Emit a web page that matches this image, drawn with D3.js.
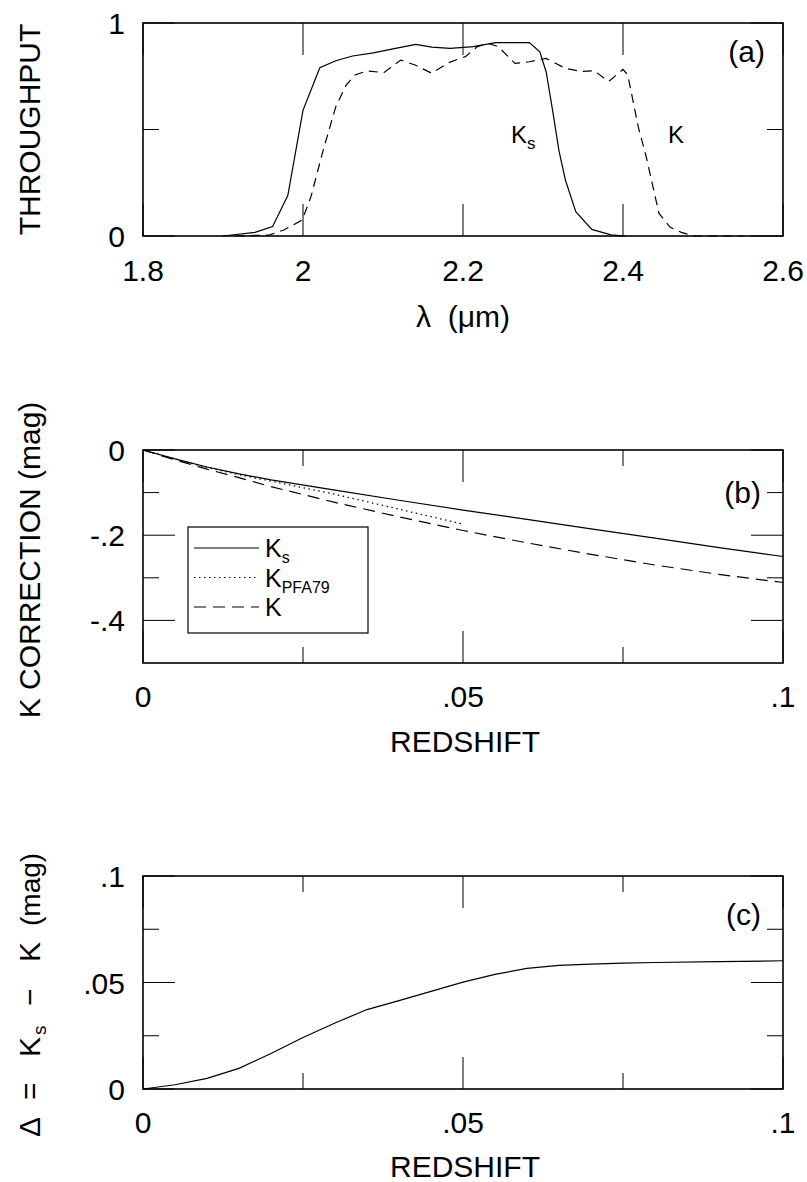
<!DOCTYPE html>
<html>
<head>
<meta charset="utf-8">
<script src="https://cdn.jsdelivr.net/npm/d3@7"></script>
<style>
  body { margin: 0; background: #fff; }
  svg { display: block; }
  text { font-family: "Liberation Sans", Arial, Helvetica, sans-serif; fill: #000; }
</style>
</head>
<body>
<div id="chart"></div>
<script>
// ---- Data: panel (a) filter throughput ----
const lambdaKs = [1.90, 1.94, 1.962, 1.981, 2.000, 2.021, 2.041, 2.062, 2.088, 2.114, 2.141, 2.161, 2.184,
  2.213, 2.241, 2.283, 2.296, 2.304, 2.312, 2.320, 2.328, 2.341, 2.361, 2.385, 2.403];
const throughputKs = [0, .017, .044, .19, .59, .79, .823, .845, .86, .88, .90, .887, .881,
  .889, .908, .908, .865, .77, .59, .40, .263, .114, .031, .005, 0];

const lambdaK = [1.916, 1.958, 1.976, 1.999, 2.010, 2.025, 2.041, 2.054, 2.065, 2.080, 2.101, 2.122, 2.140,
  2.161, 2.182, 2.203, 2.218, 2.231, 2.244, 2.265, 2.283, 2.304, 2.328, 2.348, 2.364, 2.382, 2.400,
  2.406, 2.419, 2.429, 2.445, 2.459, 2.473, 2.489, 2.55];
const throughputK = [0, .005, .028, .075, .185, .40, .607, .709, .756, .775, .767, .826, .803,
  .764, .814, .842, .889, .905, .889, .81, .818, .834, .787, .772, .776, .725, .782,
  .756, .513, .372, .106, .041, .017, 0, 0];

// ---- Data: panel (b) K corrections ----
const zCorr = [0, .005, .01, .015, .02, .03, .04, .05, .06, .07, .08, .09, .1];
const corrKs = [0, -.021, -.040, -.056, -.070, -.094, -.118, -.141, -.163, -.185, -.207, -.229, -.250];
const corrK = [0, -.023, -.045, -.065, -.086, -.123, -.157, -.189, -.218, -.245, -.270, -.292, -.311];
const zPFA = [0, .005, .01, .015, .02, .03, .04, .05];
const corrPFA = [0, -.021, -.041, -.058, -.073, -.104, -.139, -.174];

// ---- Data: panel (c) difference ----
const zDelta = [0, .005, .01, .015, .02, .025, .03, .035, .04, .045, .05, .055, .06, .065, .07, .075, .08, .09, .1];
const delta = [0, .002, .005, .0097, .0167, .0242, .031, .0373, .0415, .0458, .0502, .0538, .0566, .058,
  .0586, .0591, .0594, .0598, .0602];

// ---- Tick values and labels ----
const ticksA = { xMajor: [1.8, 2.0, 2.2, 2.4, 2.6], xMinor: [], yMajor: [0, 1], yMinor: [0.5],
  xLabels: ["1.8", "2", "2.2", "2.4", "2.6"], yLabels: ["0", "1"] };
const ticksB = { xMajor: [0, .05, .1], xMinor: [.025, .075], yMajor: [0, -.2, -.4], yMinor: [-.1, -.3],
  xLabels: ["0", ".05", ".1"], yLabels: ["0", "-.2", "-.4"] };
const ticksC = { xMajor: [0, .05, .1], xMinor: [.025, .075], yMajor: [0, .05, .1], yMinor: [.025, .075],
  xLabels: ["0", ".05", ".1"], yLabels: ["0", ".05", ".1"] };

const width = 807, height = 1182;
const left = 143, right = 783, panelH = 213;

const svg = d3.select("#chart").append("svg")
  .attr("width", width)
  .attr("height", height);

// Draw one framed panel and return its scales
function panel(top, xDomain, yDomain, ticks, xLabelBase) {
  const x = d3.scaleLinear().domain(xDomain).range([left, right]);
  const y = d3.scaleLinear().domain(yDomain).range([top + panelH, top]);
  const g = svg.append("g");

  // tick marks (inside, on all four sides)
  const tg = g.append("g").attr("stroke", "#000").attr("stroke-width", 1);
  [[ticks.xMajor, 32], [ticks.xMinor, 16]].forEach(([vals, len]) => {
    vals.forEach(v => {
      tg.append("line").attr("x1", x(v)).attr("x2", x(v)).attr("y1", top).attr("y2", top + len);
      tg.append("line").attr("x1", x(v)).attr("x2", x(v)).attr("y1", top + panelH).attr("y2", top + panelH - len);
    });
  });
  [[ticks.yMajor, 32], [ticks.yMinor, 16]].forEach(([vals, len]) => {
    vals.forEach(v => {
      tg.append("line").attr("x1", left).attr("x2", left + len).attr("y1", y(v)).attr("y2", y(v));
      tg.append("line").attr("x1", right).attr("x2", right - len).attr("y1", y(v)).attr("y2", y(v));
    });
  });

  // frame
  g.append("rect")
    .attr("x", left).attr("y", top)
    .attr("width", right - left).attr("height", panelH)
    .attr("fill", "none").attr("stroke", "#000").attr("stroke-width", 1.6);

  // tick labels
  g.selectAll(".xl").data(ticks.xMajor).join("text")
    .attr("x", d => x(d)).attr("y", xLabelBase)
    .attr("text-anchor", "middle").attr("font-size", 30)
    .text((d, i) => ticks.xLabels[i]);
  g.selectAll(".yl").data(ticks.yMajor).join("text")
    .attr("x", 125).attr("y", d => y(d) + 11)
    .attr("text-anchor", "end").attr("font-size", 30)
    .text((d, i) => ticks.yLabels[i]);

  return { g, x, y };
}

function curve(p, xs, ys, dash, sw) {
  const line = d3.line().x(d => p.x(d[0])).y(d => p.y(d[1]));
  p.g.append("path")
    .datum(d3.zip(xs, ys))
    .attr("d", line)
    .attr("fill", "none")
    .attr("stroke", "#000")
    .attr("stroke-width", sw || 1.2)
    .attr("stroke-dasharray", dash || null);
}

function rotLabel(cx, cy, txt, size) {
  svg.append("text")
    .attr("transform", `translate(${cx},${cy}) rotate(-90)`)
    .attr("text-anchor", "middle")
    .attr("font-size", size || 30)
    .text(txt);
}

// ---- Panel (a) ----
const pa = panel(23, [1.8, 2.6], [0, 1], ticksA, 281);
curve(pa, lambdaKs, throughputKs);
curve(pa, lambdaK, throughputK, "9,6");
pa.g.append("text").attr("x", 765).attr("y", 62).attr("text-anchor", "end").attr("font-size", 30).text("(a)");
const ksA = pa.g.append("text").attr("x", 511).attr("y", 143).attr("font-size", 24);
ksA.append("tspan").text("K");
ksA.append("tspan").attr("font-size", 17).attr("dy", 6).text("s");
pa.g.append("text").attr("x", 668).attr("y", 143).attr("font-size", 24).text("K");

rotLabel(40, 129.5, "THROUGHPUT");
svg.append("text").attr("x", 463).attr("y", 327).attr("text-anchor", "middle")
  .attr("font-size", 30).attr("font-family", "DejaVu Sans").attr("font-weight", 200)
  .attr("xml:space", "preserve").text("\u03bb  (\u03bcm)");

// ---- Panel (b) ----
const pb = panel(450, [0, 0.1], [-0.5, 0], ticksB, 707);
curve(pb, zCorr, corrKs);
curve(pb, zPFA, corrPFA, "1.5,3.5");
curve(pb, zCorr, corrK, "12,7");
pb.g.append("text").attr("x", 761).attr("y", 503).attr("text-anchor", "end").attr("font-size", 30).text("(b)");

// legend
const legendItems = [
  { name: "K", sub: "s", dash: null },
  { name: "K", sub: "PFA79", dash: "1.5,3.5" },
  { name: "K", sub: "", dash: "12,7" }
];
const lg = pb.g.append("g");
lg.append("rect").attr("x", 188).attr("y", 527).attr("width", 180).attr("height", 106)
  .attr("fill", "#fff").attr("stroke", "#000").attr("stroke-width", 1.2);
legendItems.forEach((d, i) => {
  const yy = 548 + i * 29.5;
  lg.append("line").attr("x1", 194).attr("x2", 259).attr("y1", yy).attr("y2", yy)
    .attr("stroke", "#000").attr("stroke-width", 1.2).attr("stroke-dasharray", d.dash);
  const t = lg.append("text").attr("x", 265).attr("y", yy + 9).attr("font-size", 25);
  t.append("tspan").text(d.name);
  if (d.sub) t.append("tspan").attr("font-size", 16).attr("dy", 6).text(d.sub);
});

rotLabel(40, 560, "K CORRECTION (mag)");
svg.append("text").attr("x", 465).attr("y", 752).attr("text-anchor", "middle").attr("font-size", 30).text("REDSHIFT");

// ---- Panel (c) ----
const pc = panel(876, [0, 0.1], [0, 0.1], ticksC, 1133);
curve(pc, zDelta, delta);
pc.g.append("text").attr("x", 761).attr("y", 925).attr("text-anchor", "end").attr("font-size", 30).text("(c)");

// rotated title built piece by piece (wide spacing)
const ct = svg.append("g").attr("transform", "translate(40,1137) rotate(-90)");
const pieces = [
  { t: "\u0394", x: 0, fs: 30, ff: "DejaVu Sans", fw: 200 },
  { t: "=", x: 37, fs: 30 },
  { t: "K", x: 80, fs: 30 },
  { t: "s", x: 102, fs: 19, dy: 6 },
  { t: "\u2212", x: 131, fs: 30 },
  { t: "K", x: 175, fs: 30 },
  { t: "(mag)", x: 211, fs: 28, ff: "DejaVu Sans", fw: 200 }
];
pieces.forEach(p => {
  ct.append("text").attr("x", p.x).attr("y", p.dy || 0)
    .attr("font-size", p.fs)
    .attr("font-family", p.ff || null)
    .attr("font-weight", p.fw || null)
    .text(p.t);
});
svg.append("text").attr("x", 465).attr("y", 1177).attr("text-anchor", "middle").attr("font-size", 30).text("REDSHIFT");
</script>
</body>
</html>
